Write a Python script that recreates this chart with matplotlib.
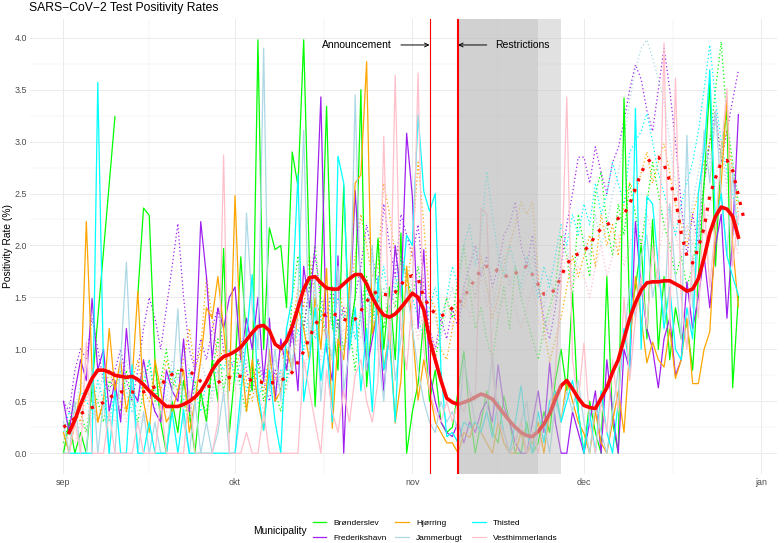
import matplotlib
matplotlib.use("Agg")
import matplotlib.pyplot as plt
from matplotlib.lines import Line2D

plt.rcParams['font.family'] = ['Liberation Sans', 'DejaVu Sans']

nan = float('nan')

# x = days since 1 Sep 2020; None = no observation (line joins across), nan = gap
month_ticks = [0, 30, 61, 91, 122]
month_labels = ['sep', 'okt', 'nov', 'dec', 'jan']
minor_ticks = [15, 45.5, 76, 106.5]

municipalities = ['Brønderslev', 'Frederikshavn', 'Hjørring', 'Jammerbugt', 'Thisted', 'Vesthimmerlands']
colors = ['#00FF00', '#A020F0', '#FFA500', '#ADD8E6', '#00FFFF', '#FFC0CB']

bronderslev_solid = [0.0, 0.3, 0.0, 0.2, 0.0, None, None, None, None, 3.24,
    nan, nan, nan, 1.52, 2.36, 2.29, 0.9, 0.3, 0.0, 0.5,
    0.2, 0.7, 0.4, 0.0, 0.6, 0.3, 0.9, 0.5, 1.97, 0.2,
    0.8, 1.89, 1.1, 0.6, 3.98, 1.0, 2.17, 1.96, 2.0, 1.40,
    2.90, 2.57, 3.98, 1.83, 0.45, 1.6, 3.34, 1.28, 0.8, 2.58,
    1.12, 1.5, 3.5, 0.64, 1.3, 2.07, 1.0, 1.6, 0.9, 2.12, 0.0,
    0.4, 0.67, 1.3, 0.5, 0.8, 0.3, 0.2, 0.25, 0.6, 0.98,
    0.4, 0.0, 0.3, 0.6, 0.2, 0.1, 0.55, 0.3, 0.0, 0.0,
    0.3, 0.0, 0.1, 0.4, 0.2, 0.7, 1.0, 0.6, 1.54, 0.4,
    0.0, 0.5, 0.2, 0.0, 1.7, 0.3, 0.0, 3.42, 1.3, 1.6,
    2.0, 1.1, 2.25, 1.0, 1.7, 0.9, 1.4, 1.1, 1.25, 0.8,
    1.7, 2.6, 3.56, 1.8, 2.92, 3.3, 0.63, 1.51]

frederikshavn_solid = [0.5, 0.2, 0.6, 0.9, 0.7, 1.49, 0.8, 1.0, 0.4, 0.7,
    0.3, 1.2, 0.6, 0.5, 0.9, 0.6, 0.4, 0.3, 0.8, 0.6,
    0.5, 1.1, 0.4, 0.8, 2.23, 1.7, 0.9, 1.4, 1.2, 1.5,
    1.6, 0.9, 1.3, 1.0, 1.5, 0.7, 1.3, 0.5, 1.1, 0.8,
    1.2, 0.6, 1.8, 1.4, 2.0, 3.43, 1.0, 0.7, 1.9, 0.0,
    1.3, 2.53, 1.6, 0.8, 1.1, 1.4, 0.6, 1.2, 2.0, 1.5, 3.08,
    2.47, 1.2, 1.96, 0.77, 0.5, 0.3, 0.2, 0.16, 0.3, 0.1,
    0.3, 0.2, 0.4, 0.5, 0.3, 0.85, 0.45, 0.3, 0.1, 0.0,
    0.0, 0.3, 0.6, 0.2, 0.87, 0.3, 0.0, 0.0, 0.4, 0.2,
    0.0, 0.3, 0.6, 0.0, 0.9, 0.4, 0.0, 1.0, 0.8, 2.23,
    1.6, 1.2, 1.0, 0.63, 1.1, 1.3, 0.75, 0.9, 1.65, 1.2,
    1.5, 1.9, 1.4, 2.0, 2.3, 1.3, 2.1, 3.26]

hjorring_solid = [0.2, 0.0, 0.3, 0.6, 2.23, 0.8, 0.3, 0.5, 1.2, 0.6,
    0.9, 0.4, 0.7, 1.56, 0.5, 0.2, 0.9, 0.6, 0.3, 0.4,
    0.6, 0.8, 0.2, 0.5, 0.9, 1.4, 1.3, 1.7, 1.2, 0.6,
    2.48, 1.0, 0.4, 0.9, 0.5, 0.22, 1.0, 0.5, 0.6, 1.0,
    0.8, 1.4, 1.2, 0.9, 1.5, 1.0, 1.78, 0.24, 1.1, 0.9,
    1.6, 2.6, 2.68, 3.77, 1.15, 1.4, 0.8, 1.2, 0.29, 0.7, 1.8,
    1.2, 0.51, 0.9, 0.6, 0.3, 0.2, 0.1, 0.1, 0.0, 0.2,
    0.15, 0.3, 0.2, 0.1, 0.0, 0.3, 0.1, 0.0, 0.0, 0.2,
    0.0, 0.1, 0.3, 0.0, 0.4, 0.6, 0.3, 0.7, 0.5, 0.3,
    0.19, 0.0, 0.4, 0.1, 0.0, 0.3, 0.6, 0.2, 1.0, 1.7,
    1.3, 0.87, 1.07, 0.9, 0.83, 1.2, 0.72, 0.9, 1.3, 0.67,
    0.67, 1.0, 1.17, 2.15, 2.6, 3.43, 2.0, 1.41]

jammerbugt_solid = [0.3, 0.0, 0.5, 0.0, 0.0, 0.8, 0.0, 0.5, 0.0, 0.0,
    0.9, 1.84, 0.6, 0.0, 0.4, 0.0, 0.3, 0.0, 0.0, 0.6,
    1.39, 0.3, 0.0, 0.5, 0.0, 0.3, 0.0, 0.2, 0.6, 0.0,
    0.0, 0.4, 2.31, 1.4, 1.0, 3.9, 0.6, 1.0, 0.5, 1.2,
    0.8, 1.5, 3.11, 1.0, 1.7, 0.5, 1.2, 0.9, 1.8, 0.6,
    1.0, 3.45, 1.3, 0.8, 2.0, 1.0, 0.5, 1.4, 0.7, 1.1, 1.6,
    1.2, 0.8, 0.5, 0.3, 0.2, 0.5, 0.3, 0.4, 0.2, 0.9,
    0.6, 0.3, 0.2, 0.4, 0.96, 0.3, 0.2, 0.0, 0.1, 0.3,
    0.5, 0.0, 0.2, 0.3, 0.0, 0.5, 0.3, 0.6, 0.4, 0.7,
    0.3, 0.0, 0.5, 0.2, 0.0, 0.4, 0.8, 1.1, 1.6, 1.3,
    1.9, 2.1, 1.5, 1.8, 1.3, 2.4, 1.7, 1.1, 3.06, 1.4,
    2.0, 3.11, 2.6, 3.3, 2.5, 1.9, 2.7, 2.0]

thisted_solid = [0.0, 0.0, 0.0, 0.0, 0.0, 0.0, 3.57, 0.8, 0.0, 0.6,
    0.0, 0.0, 0.85, 0.0, 0.0, 0.3, 0.0, 0.0, 0.0, 0.4,
    0.0, 0.42, 0.0, 0.0, 0.0, 0.0, 0.0, 0.0, 0.0, 0.0,
    0.0, 0.58, 1.1, 1.72, 0.6, 0.22, 0.8, 0.3, 0.0, 1.2,
    1.5, 2.68, 0.5, 0.9, 1.4, 0.7, 1.1, 0.3, 2.86, 2.6,
    1.0, 1.4, 0.6, 1.2, 0.4, 1.7, 0.8, 1.1, 0.3, 1.5, 2.1,
    2.0, 3.26, 2.52, 2.33, 2.5, 0.8, 0.16, 0.2, 0.1, 0.3,
    0.25, 0.3, 0.2, 0.4, 0.15, 0.5, 0.2, 0.0, 0.3, 0.65,
    0.2, 0.0, 0.4, 0.1, 0.5, 0.6, 0.3, 0.5, 0.7, 0.4,
    0.0, 0.4, 0.0, 0.6, 0.2, 0.0, 0.5, 1.2, 0.8, 3.32,
    1.0, 2.47, 2.4, 1.8, 1.2, 1.6, 1.0, 0.9, 1.4, 1.1,
    2.5, 2.9, 3.69, 2.2, 2.5, 1.9, 1.7, 1.52]

vesthimmerlands_solid = [0.0, 0.0, 0.3, 0.0, 1.07, 0.0, 0.0, 0.0, 0.4, 0.0,
    0.0, 0.0, 0.0, 0.3, 0.0, 0.0, 0.0, 0.5, 0.0, 0.0,
    0.0, 0.0, 0.6, 0.0, 0.0, 0.0, 0.0, 0.3, 2.87, 0.0,
    0.0, 0.0, 0.2, 0.0, 0.0, 0.4, 0.0, 0.0, 0.0, 0.0,
    0.0, 0.0, 0.9, 0.6, 0.3, 0.0, 0.8, 0.4, 0.2, 0.6,
    0.3, 0.75, 0.9, 0.5, 0.3, 0.7, 3.05, 1.0, 3.64, 1.2, 0.8,
    1.5, 3.66, 1.0, 0.6, 0.4, 0.3, 0.5, 0.3, 0.5, 0.4,
    0.6, 0.5, 2.36, 2.3, 0.8, 0.3, 0.2, 0.0, 0.1, 0.3,
    0.0, 0.2, 0.0, 0.3, 0.4, 0.8, 1.6, 3.43, 0.9, 0.5,
    1.06, 0.3, 0.0, 0.5, 0.2, 0.9, 0.4, 1.5, 0.7, 1.3,
    1.7, 1.2, 2.0, 1.6, 3.95, 1.2, 3.61, 1.5, 1.0, 1.9,
    1.3, 2.4, 1.6, 2.2, 2.9, 3.51, 1.8, 2.3]

bronderslev_dotted = [0.1, 0.3, 0.5, 0.4, 0.2, 0.6, 0.5, 0.3, 0.7, 0.6,
    0.4, 0.8, 0.5, 0.3, 0.6, 0.9, 0.5, 0.7, 1.0, 0.6,
    0.8, 0.5, 0.3, 0.7, 0.5, 0.4, 0.8, 1.1, 0.6, 0.9,
    1.0, 0.6, 0.4, 0.7, 0.9, 0.5, 0.8, 0.6, 0.4, 0.7,
    1.5, 1.9, 1.2, 1.6, 2.0, 1.4, 1.1, 0.9, 1.3, 1.0,
    1.2, 0.8, 1.4, 1.7, 1.3, 1.5, 1.2, 1.6, 1.4, 1.9, 1.7,
    1.5, 1.8, 1.4, 1.0, 0.9, 1.2, 1.5, 1.3, 1.7, 2.0,
    1.6, 1.2, 1.4, 1.1, 0.9, 1.3, 1.6, 1.2, 1.8, 1.5,
    1.3, 1.1, 0.9, 1.2, 1.4, 1.6, 2.1, 1.9, 1.5, 2.3,
    2.0, 1.7, 2.5, 2.71, 2.2, 1.9, 2.4, 2.1, 2.6, 2.3,
    2.0, 2.4, 2.8, 2.5, 2.2, 2.0, 1.7, 1.9, 1.6, 1.8,
    2.2, 2.6, 3.0, 3.5, 3.96, 3.2, 2.8, 2.4]

frederikshavn_dotted = [0.5, 0.4, 0.8, 1.01, 0.9, 1.3, 1.0, 0.7, 0.6, 0.8,
    1.0, 0.7, 0.5, 0.8, 1.2, 1.5, 1.3, 1.0, 1.4, 1.8,
    2.21, 1.5, 1.0, 0.8, 1.1, 0.9, 1.2, 1.4, 1.0, 0.8,
    0.9, 1.1, 0.8, 0.6, 0.9, 0.7, 0.5, 0.8, 0.6, 0.9,
    1.1, 1.4, 1.2, 1.6, 1.9, 1.5, 1.3, 1.6, 1.2, 1.4,
    1.1, 1.5, 1.8, 2.2, 1.9, 1.6, 2.4, 2.0, 1.7, 2.3, 2.1,
    1.9, 2.2, 1.6, 1.2, 1.0, 1.3, 1.1, 1.4, 1.2, 1.6,
    1.8, 2.0, 1.7, 1.9, 1.6, 1.8, 2.1, 2.2, 2.42, 2.0,
    1.8, 2.1, 1.6, 1.3, 1.1, 1.4, 1.8, 2.2, 2.5, 2.85,
    2.85, 2.6, 2.95, 2.7, 2.5, 2.8, 2.94, 3.2, 3.5, 3.74,
    3.6, 3.3, 3.1, 3.5, 3.9, 3.5, 3.0, 2.4, 1.9, 2.3,
    2.0, 2.6, 3.0, 3.3, 2.8, 3.1, 3.4, 3.69]

hjorring_dotted = [0.0, 0.2, 0.4, 0.3, 0.6, 0.5, 0.3, 0.5, 0.8, 0.6,
    0.5, 0.4, 0.7, 0.9, 0.6, 0.5, 0.8, 0.6, 0.9, 0.7,
    0.6, 0.9, 1.2, 0.8, 1.0, 1.7, 1.3, 0.9, 1.0, 0.7,
    0.8, 1.0, 0.7, 0.5, 0.8, 0.6, 0.9, 0.7, 1.0, 0.8,
    1.2, 1.6, 1.4, 1.9, 1.5, 1.3, 1.1, 1.4, 1.7, 1.3,
    1.5, 1.9, 2.3, 2.0, 1.7, 1.8, 2.6, 2.3, 1.9, 2.0, 1.6,
    2.0, 2.8, 2.2, 1.5, 1.4, 1.0, 0.9, 1.2, 1.5, 1.4,
    1.7, 1.5, 1.9, 1.6, 1.3, 1.5, 1.8, 2.0, 2.2, 2.42,
    2.3, 2.42, 1.7, 1.2, 0.88, 1.1, 1.3, 1.6, 1.9, 1.7,
    1.9, 2.1, 1.8, 2.3, 2.0, 2.2, 1.9, 2.4, 2.6, 2.5,
    2.7, 2.9, 2.6, 2.8, 2.98, 2.7, 2.4, 2.2, 2.0, 2.3,
    2.5, 2.8, 3.0, 3.2, 2.9, 3.1, 2.7, 2.3]

jammerbugt_dotted = [0.3, 0.5, 0.4, 0.7, 0.6, 0.3, 0.5, 0.8, 0.6, 0.4,
    0.6, 0.9, 0.7, 0.5, 0.8, 0.6, 0.4, 0.7, 0.5, 0.9,
    0.7, 1.0, 0.8, 0.6, 0.9, 0.7, 0.5, 0.8, 0.6, 0.9,
    0.8, 0.6, 0.9, 0.7, 0.5, 0.8, 0.6, 0.9, 0.7, 1.0,
    1.1, 1.3, 1.0, 1.2, 1.5, 1.3, 1.1, 1.4, 1.2, 1.0,
    1.3, 1.1, 1.4, 1.2, 1.5, 1.3, 1.6, 1.4, 1.7, 1.5, 1.8,
    1.6, 1.4, 1.2, 1.5, 1.3, 1.1, 1.4, 1.6, 1.3, 1.5,
    1.7, 1.5, 1.8, 1.6, 1.4, 1.7, 1.9, 1.6, 1.8, 1.5,
    1.7, 1.9, 1.6, 1.4, 1.7, 1.5, 1.8, 2.0, 1.7, 1.9,
    2.1, 1.9, 2.3, 2.0, 2.2, 2.5, 2.7, 3.0, 3.4, 3.7,
    3.9, 3.98, 3.8, 3.6, 3.4, 3.0, 2.6, 2.3, 2.1, 2.4,
    2.7, 3.0, 2.8, 3.2, 2.9, 2.6, 2.8, 2.5]

thisted_dotted = [0.2, 0.4, 0.3, 0.6, 0.5, 0.4, 0.7, 0.5, 0.3, 0.6,
    0.8, 0.6, 0.4, 0.5, 0.7, 0.9, 0.6, 0.4, 0.7, 0.8,
    0.6, 0.5, 0.8, 0.6, 0.4, 0.7, 0.6, 0.9, 0.8, 1.0,
    0.7, 0.9, 0.6, 0.8, 0.5, 0.7, 0.9, 0.6, 0.8, 0.7,
    0.9, 1.2, 1.0, 1.4, 1.1, 1.3, 1.6, 1.2, 1.5, 1.3,
    1.4, 1.1, 1.3, 1.6, 1.2, 1.5, 1.8, 1.4, 1.6, 1.9, 1.7,
    1.5, 1.3, 1.1, 1.4, 1.6, 1.3, 1.5, 1.8, 1.6, 2.0,
    2.2, 1.8, 2.1, 2.71, 2.3, 1.9, 1.7, 2.0, 1.8, 1.6,
    1.9, 1.7, 1.5, 1.8, 1.6, 1.9, 2.2, 2.0, 2.3, 2.1,
    2.4, 2.2, 2.6, 2.3, 2.5, 2.8, 2.6, 2.4, 2.9, 3.0,
    3.1, 3.27, 3.0, 2.7, 2.5, 2.3, 2.1, 2.4, 2.6, 2.8,
    3.1, 3.5, 3.93, 3.4, 3.0, 2.7, 2.5, 2.2]

vesthimmerlands_dotted = [0.0, 0.2, 0.1, 0.3, 0.2, 0.4, 0.3, 0.5, 0.4, 0.3,
    0.5, 0.3, 0.6, 0.4, 0.3, 0.5, 0.7, 0.5, 0.4, 0.6,
    0.5, 0.7, 0.4, 0.6, 0.5, 0.3, 0.6, 0.8, 0.5, 0.7,
    0.6, 0.8, 0.5, 0.7, 0.6, 0.4, 0.7, 0.5, 0.8, 0.6,
    0.9, 1.1, 0.8, 1.0, 1.2, 0.9, 1.1, 1.3, 1.0, 1.2,
    1.0, 1.3, 1.1, 1.4, 1.2, 1.5, 1.3, 1.6, 1.4, 1.2, 1.5,
    1.3, 1.1, 1.4, 1.2, 1.0, 1.3, 1.5, 1.2, 1.4, 1.6,
    1.3, 1.5, 1.7, 1.4, 1.6, 1.3, 1.5, 1.7, 1.4, 1.2,
    1.4, 1.6, 1.3, 1.1, 1.3, 1.5, 1.7, 1.9, 1.6, 1.8,
    1.7, 1.5, 1.8, 2.0, 1.7, 1.9, 2.1, 1.8, 2.0, 2.2,
    2.0, 2.3, 2.1, 1.9, 2.2, 2.4, 2.1, 1.9, 2.2, 2.0,
    2.3, 2.1, 2.4, 2.6, 3.0, 2.5, 2.2, 1.9]

# smoothed averages (solid: starts 2 Sep; dotted: starts 1 Sep)
mean_solid_start = 1
mean_solid = [0.20, 0.32, 0.47, 0.60, 0.72, 0.80, 0.80, 0.78, 0.75, 0.74,
    0.73, 0.74, 0.71, 0.66, 0.60, 0.55, 0.50, 0.45, 0.45, 0.45,
    0.47, 0.50, 0.54, 0.60, 0.69, 0.80, 0.88, 0.93, 0.95, 0.98,
    1.02, 1.09, 1.16, 1.22, 1.23, 1.18, 1.05, 1.01, 1.08, 1.22,
    1.40, 1.58, 1.69, 1.70, 1.64, 1.59, 1.58, 1.58, 1.63, 1.68,
    1.72, 1.72, 1.63, 1.50, 1.40, 1.33, 1.31, 1.34, 1.40, 1.47,
    1.54, 1.50, 1.38, 1.10, 0.90, 0.70, 0.53, 0.49, 0.47, 0.49,
    0.51, 0.54, 0.57, 0.55, 0.52, 0.45, 0.38, 0.31, 0.25, 0.20,
    0.17, 0.16, 0.21, 0.28, 0.38, 0.52, 0.65, 0.70, 0.62, 0.53,
    0.46, 0.44, 0.43, 0.53, 0.63, 0.78, 0.90, 1.10, 1.30, 1.45,
    1.57, 1.64, 1.65, 1.65, 1.66, 1.66, 1.63, 1.60, 1.56, 1.58,
    1.68, 1.88, 2.12, 2.28, 2.37, 2.35, 2.28, 2.08]

mean_dotted_start = 0
mean_dotted = [0.25, 0.29, 0.34, 0.38, 0.41, 0.44, 0.46, 0.49, 0.53, 0.57,
    0.59, 0.59, 0.59, 0.58, 0.59, 0.61, 0.64, 0.66, 0.71, 0.76,
    0.80, 0.80, 0.79, 0.75, 0.69, 0.64, 0.65, 0.68, 0.71, 0.73,
    0.75, 0.74, 0.72, 0.70, 0.69, 0.68, 0.68, 0.68, 0.70, 0.73,
    0.78, 0.88, 0.98, 1.11, 1.24, 1.31, 1.34, 1.35, 1.32, 1.29,
    1.27, 1.29, 1.37, 1.46, 1.53, 1.56, 1.53, 1.52, 1.55, 1.62,
    1.69, 1.71, 1.68, 1.50, 1.41, 1.34, 1.32, 1.35, 1.40, 1.44,
    1.50, 1.59, 1.68, 1.77, 1.80, 1.79, 1.75, 1.71, 1.70, 1.73,
    1.77, 1.80, 1.72, 1.62, 1.53, 1.53, 1.58, 1.70, 1.82, 1.89,
    1.92, 1.95, 2.00, 2.10, 2.16, 2.20, 2.23, 2.26, 2.30, 2.40,
    2.55, 2.70, 2.80, 2.84, 2.85, 2.78, 2.62, 2.45, 2.12, 1.90,
    1.83, 1.98, 2.17, 2.48, 2.65, 2.80, 2.82, 2.72, 2.48, 2.25]

announcement_day = 64   # 4 Nov
restrictions_day = 69   # 9 Nov
shade_periods = [(69, 87), (69, 83)]

solid_series = [bronderslev_solid, frederikshavn_solid, hjorring_solid,
                jammerbugt_solid, thisted_solid, vesthimmerlands_solid]
dotted_series = [bronderslev_dotted, frederikshavn_dotted, hjorring_dotted,
                 jammerbugt_dotted, thisted_dotted, vesthimmerlands_dotted]


def xy(vals, start=0):
    xs, ys = [], []
    for i, v in enumerate(vals):
        if v is None:
            continue
        xs.append(start + i)
        ys.append(v)
    return xs, ys


W, H = 784, 543
fig = plt.figure(figsize=(W / 100, H / 100), dpi=100)
ax = fig.add_axes([30 / W, 1 - 474 / H, 747 / W, 455 / H])
ax.set_xlim(-5.85, 124.75)
ax.set_ylim(-0.2, 4.18)

for vals, col in zip(dotted_series, colors):
    x, y = xy(vals)
    ax.plot(x, y, color=col, lw=0.9, linestyle=(0, (1, 2.0)), zorder=2)
for vals, col in zip(solid_series, colors):
    x, y = xy(vals)
    ax.plot(x, y, color=col, lw=0.9, zorder=2.2)

x, y = xy(mean_dotted, mean_dotted_start)
ax.plot(x, y, color='#FF0000', lw=2.3, linestyle=(0, (1, 2.5)),
        dash_capstyle='butt', zorder=3)
x, y = xy(mean_solid, mean_solid_start)
ax.plot(x, y, color='#FF0000', lw=2.6, solid_joinstyle='round', zorder=3.1)

for a, b in shade_periods:
    ax.axvspan(a, b, color='#BEBEBE', alpha=0.45, lw=0, zorder=4)

ax.axvline(announcement_day, color='#FF0000', lw=0.8, zorder=5)
ax.axvline(restrictions_day, color='#FF0000', lw=1.5, zorder=5)

ax.annotate('', xy=(announcement_day, 3.93), xytext=(59.0, 3.93),
            arrowprops=dict(arrowstyle='->', color='black', lw=0.7,
                            shrinkA=0, shrinkB=0, mutation_scale=7), zorder=6)
ax.annotate('', xy=(restrictions_day, 3.93), xytext=(74.0, 3.93),
            arrowprops=dict(arrowstyle='->', color='black', lw=0.7,
                            shrinkA=0, shrinkB=0, mutation_scale=7), zorder=6)
ax.text(51.35, 3.93, 'Announcement', ha='center', va='center', fontsize=7.5,
        color='black', zorder=6)
ax.text(80.2, 3.93, 'Restrictions', ha='center', va='center', fontsize=7.5,
        color='black', zorder=6)

# axes styling
for s in ax.spines.values():
    s.set_visible(False)
ax.set_xticks(month_ticks)
ax.set_xticklabels(month_labels)
ax.set_xticks(minor_ticks, minor=True)
ax.set_yticks([0, 0.5, 1.0, 1.5, 2.0, 2.5, 3.0, 3.5, 4.0])
ax.set_yticklabels(['0.0', '0.5', '1.0', '1.5', '2.0', '2.5', '3.0', '3.5', '4.0'])
ax.set_yticks([0.25, 0.75, 1.25, 1.75, 2.25, 2.75, 3.25, 3.75], minor=True)
ax.tick_params(which='both', length=0)
ax.tick_params(axis='x', pad=3, labelsize=6.4, labelcolor='#4D4D4D')
ax.tick_params(axis='y', pad=2.2, labelsize=6.4, labelcolor='#4D4D4D')
ax.grid(which='major', color='#EBEBEB', lw=0.7, zorder=0)
ax.grid(which='minor', color='#EBEBEB', lw=0.35, zorder=0)
ax.set_axisbelow(True)

fig.text(8 / W, 1 - 246 / H, 'Positivity Rate (%)', rotation=90, ha='center',
         va='center', fontsize=7.4, color='black')
fig.text(29 / W, 1 - 8 / H, 'SARS\u2212CoV\u22122 Test Positivity Rates', ha='left',
         va='center', fontsize=8.7, color='black')

fig.text(253 / W, 1 - 530.5 / H, 'Municipality', ha='left', va='center',
         fontsize=7.35, color='black')
handles = [Line2D([0], [0], color=c, lw=0.9) for c in colors]
fig.legend(handles, municipalities, loc='center left',
           bbox_to_anchor=(312.5 / W, 1 - 530.5 / H), ncol=3, frameon=False,
           fontsize=6.0, handlelength=1.65, handletextpad=0.85,
           columnspacing=1.05, labelspacing=0.95, borderpad=0, borderaxespad=0)

fig.savefig('out.png', dpi=100, facecolor='white')
